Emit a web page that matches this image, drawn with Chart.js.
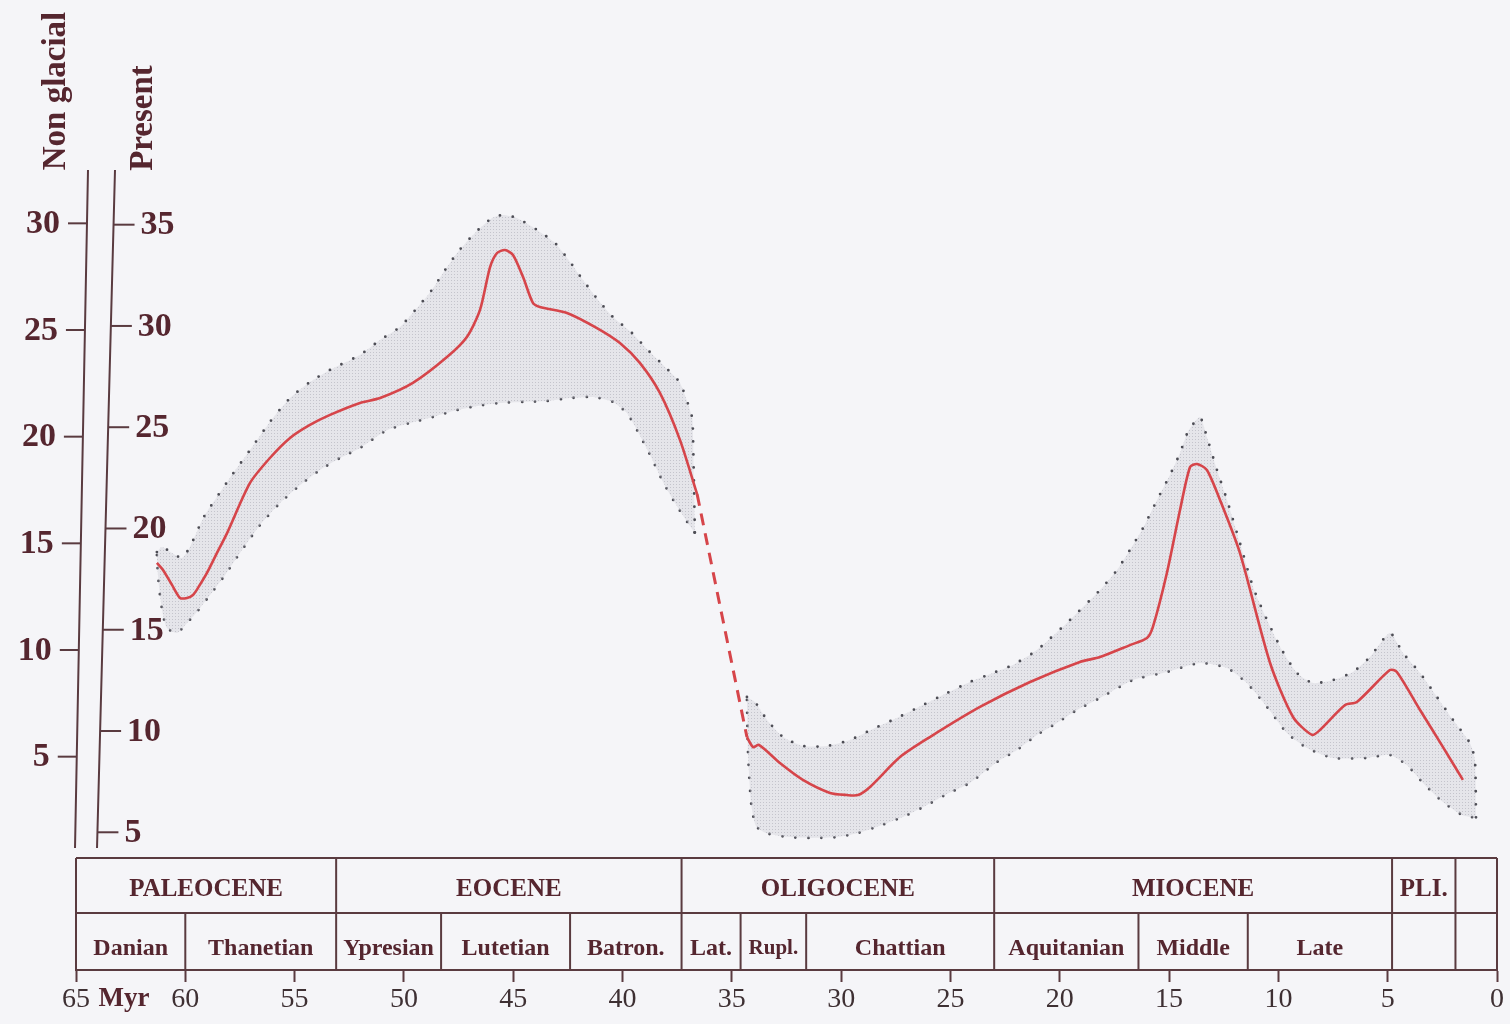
<!DOCTYPE html>
<html>
<head>
<meta charset="utf-8">
<title>Cenozoic temperature curve</title>
<script src="https://cdn.jsdelivr.net/npm/chart.js@4/dist/chart.umd.min.js"></script>
<style>
  html, body { margin: 0; padding: 0; background: #f5f5f8; overflow: hidden; }
  canvas { display: block; }
</style>
</head>
<body>
<canvas id="c" width="1510" height="1024"></canvas>
<script>
// Mean temperature (°C, non-glacial scale) against age in Myr
const redPaleogene = [[61.30,14.08],[61.02,13.75],[60.61,13.05],[60.24,12.44],[59.92,12.44],[59.65,12.58],[59.42,12.91],[59.01,13.61],[58.55,14.55],[58.09,15.48],[57.04,17.83],[56.13,19.00],[55.21,19.94],[54.30,20.55],[53.38,21.02],[52.01,21.58],[51.09,21.81],[49.59,22.52],[48.03,23.73],[47.12,24.67],[46.52,25.94],[46.06,27.95],[45.74,28.61],[45.38,28.75],[45.01,28.52],[44.55,27.48],[44.10,26.27],[43.78,26.08],[42.54,25.80],[41.17,25.09],[40.12,24.39],[39.20,23.45],[38.29,22.05],[37.37,19.84],[36.59,17.31]];
const redTransition = [[36.59,17.31],[34.31,5.92]];
const redNeogene = [[34.31,5.92],[34.03,5.45],[33.76,5.55],[32.80,4.70],[31.75,3.91],[30.51,3.30],[29.73,3.20],[29.23,3.20],[28.68,3.58],[27.31,4.98],[25.94,5.92],[23.65,7.33],[21.36,8.50],[19.08,9.44],[18.16,9.67],[16.79,10.23],[16.01,10.56],[15.74,11.08],[15.10,13.61],[14.50,16.56],[14.04,18.58],[13.72,18.72],[13.27,18.44],[12.67,17.03],[11.76,14.55],[10.38,9.39],[9.33,6.86],[8.46,6.02],[8.10,6.25],[6.95,7.42],[6.41,7.56],[4.90,9.06],[4.58,8.97],[3.52,7.19],[2.47,5.45],[1.56,3.91]];

// Uncertainty envelope (upper and lower limits)
const upperPaleogene = [[61.30,14.59],[61.07,14.83],[60.61,14.55],[60.15,14.31],[59.79,14.83],[59.33,15.86],[59.10,16.33],[57.96,18.06],[57.04,19.37],[56.13,20.69],[55.21,21.81],[54.30,22.56],[53.38,23.13],[52.01,23.83],[51.09,24.53],[50.18,25.14],[49.40,26.03],[48.72,26.88],[48.12,27.81],[47.53,28.66],[46.75,29.55],[45.97,30.25],[45.47,30.39],[44.83,30.25],[43.91,29.69],[43.09,29.08],[42.40,28.19],[41.81,27.34],[41.12,26.41],[40.44,25.61],[39.57,24.86],[38.84,24.06],[38.06,23.27],[37.37,22.52],[36.82,20.92],[36.78,20.17],[36.69,15.48]];
const lowerPaleogene = [[61.30,14.45],[61.25,13.52],[61.16,12.58],[61.02,11.64],[60.84,11.03],[60.38,10.80],[59.92,11.27],[59.47,11.78],[58.87,12.58],[58.18,13.52],[57.50,14.55],[56.58,15.86],[55.67,16.89],[54.75,17.73],[53.84,18.44],[52.92,19.00],[52.01,19.47],[50.77,20.31],[49.72,20.64],[48.67,20.92],[47.76,21.20],[46.66,21.44],[45.61,21.58],[44.55,21.63],[43.46,21.67],[42.40,21.81],[41.35,21.86],[40.44,21.63],[39.80,21.11],[39.34,20.31],[38.74,19.14],[38.15,17.88],[37.60,16.89],[37.01,15.95],[36.69,15.48]];
const upperNeogene = [[34.31,7.80],[33.94,7.56],[33.39,6.72],[32.66,5.92],[31.75,5.50],[30.65,5.50],[29.60,5.78],[28.54,6.30],[27.45,6.81],[26.53,7.28],[25.16,7.98],[24.11,8.50],[23.06,8.92],[22.14,9.30],[21.23,9.86],[20.77,10.23],[19.53,11.41],[18.16,12.81],[17.38,13.75],[16.79,14.69],[16.19,15.72],[15.55,17.03],[14.96,18.20],[14.50,19.23],[14.14,20.22],[13.59,20.92],[13.27,19.98],[12.81,18.44],[12.35,17.03],[11.76,15.02],[11.16,12.95],[10.52,11.41],[9.84,10.00],[9.15,8.92],[8.42,8.45],[7.50,8.59],[6.59,8.97],[5.81,9.67],[4.90,10.80],[4.30,9.86],[3.52,8.92],[2.75,7.80],[2.01,6.72],[1.24,5.64],[1.01,4.84],[0.96,2.13]];
const lowerNeogene = [[34.31,7.66],[34.26,5.17],[34.12,2.83],[33.90,1.75],[33.44,1.42],[32.43,1.23],[31.33,1.19],[30.19,1.23],[29.23,1.42],[28.13,1.80],[27.08,2.22],[26.07,2.73],[25.16,3.25],[24.11,3.77],[22.87,4.75],[21.96,5.31],[21.04,6.02],[20.13,6.58],[19.21,7.19],[18.16,7.75],[16.65,8.59],[15.10,8.97],[13.59,9.39],[12.35,9.16],[11.44,8.45],[10.52,7.33],[9.61,6.11],[8.69,5.41],[7.50,4.94],[5.95,4.94],[4.90,5.08],[4.12,4.61],[3.39,3.77],[2.47,2.87],[1.60,2.27],[0.96,2.13]];

// Stratigraphic table (boundaries in Myr)
const epochBounds = [65, 53.1, 37.3, 23.0, 4.8, 1.9, 0];
const epochNames = ['PALEOCENE', 'EOCENE', 'OLIGOCENE', 'MIOCENE', 'PLI.', ''];
const stageBounds = [65, 60, 53.1, 48.3, 42.4, 37.3, 34.6, 31.6, 23.0, 16.4, 11.4, 4.8, 1.9, 0];
const stageNames = ['Danian', 'Thanetian', 'Ypresian', 'Lutetian', 'Batron.', 'Lat.', 'Rupl.', 'Chattian', 'Aquitanian', 'Middle', 'Late', '', ''];

// Temperature scales
const nonGlacialTicks = [5, 10, 15, 20, 25, 30];
const presentTicks = [5, 10, 15, 20, 25, 30, 35];

const BG = '#f5f5f8';
const INK = '#55262f';
const RULE = '#5a3b40';
const NUM = '#3e3033';
const SERIF = '"Liberation Serif", "DejaVu Serif", serif';

const pts = arr => arr.map(([x, y]) => ({ x, y }));

function stipple() {
  const c = document.createElement('canvas');
  c.width = 3; c.height = 3;
  const g = c.getContext('2d');
  g.fillStyle = 'rgba(196,196,204,0.32)';
  g.fillRect(0, 0, 3, 3);
  g.fillStyle = 'rgba(120,120,132,0.30)';
  g.fillRect(1, 1, 1, 1);
  return g.createPattern(c, 'repeat');
}
const bandFill = stipple();

const envelope = (data, fill) => ({
  data: pts(data), fill: fill, backgroundColor: bandFill,
  borderColor: '#4d4d55', borderWidth: 2.8, borderDash: [0, 13], borderCapStyle: 'round',
  pointRadius: 0, tension: 0.2, order: 2
});
const curve = (data, dash) => ({
  data: pts(data), fill: false, borderColor: '#d6454a', borderWidth: dash ? 3 : 2.6,
  borderDash: dash ? [12, 8] : [], pointRadius: 0, tension: 0.25, order: 1
});

const tablePlugin = {
  id: 'stratTable',
  beforeDraw(chart) {
    const { ctx, width, height } = chart;
    ctx.save();
    ctx.fillStyle = BG;
    ctx.fillRect(0, 0, width, height);
    ctx.restore();
  },
  afterDraw(chart) {
    const { ctx, chartArea } = chart;
    const xs = chart.scales.x;
    const rowTop = 858, rowMid = 913, rowBot = chartArea.bottom;
    const px = v => xs.getPixelForValue(v);

    ctx.save();
    ctx.strokeStyle = RULE;
    ctx.lineWidth = 2;
    ctx.beginPath();
    ctx.moveTo(px(65), rowTop); ctx.lineTo(px(0), rowTop);
    ctx.moveTo(px(65), rowMid); ctx.lineTo(px(0), rowMid);
    epochBounds.forEach(b => { ctx.moveTo(px(b), rowTop); ctx.lineTo(px(b), rowMid); });
    stageBounds.forEach(b => { ctx.moveTo(px(b), rowMid); ctx.lineTo(px(b), rowBot); });
    ctx.stroke();

    ctx.fillStyle = INK;
    ctx.textAlign = 'center';
    ctx.textBaseline = 'middle';
    ctx.font = 'bold 25px ' + SERIF;
    epochNames.forEach((n, i) => {
      if (!n) return;
      ctx.fillText(n, (px(epochBounds[i]) + px(epochBounds[i + 1])) / 2, 890);
    });
    stageNames.forEach((n, i) => {
      if (!n) return;
      ctx.font = (n === 'Rupl.' ? 'bold 21px ' : 'bold 24px ') + SERIF;
      ctx.fillText(n, (px(stageBounds[i]) + px(stageBounds[i + 1])) / 2, 949);
    });

    // age unit next to the oldest tick
    ctx.font = 'bold 27px ' + SERIF;
    ctx.fillText('Myr', 124, 999);

    // two temperature axes on the left
    const top = chartArea.top, bottom = 848;
    const slant = (x0, x1, y) => x0 + (x1 - x0) * (y - top) / (bottom - top);
    const ys = chart.scales.y, ys2 = chart.scales.y2;

    ctx.beginPath();
    ctx.moveTo(88, top); ctx.lineTo(75, bottom);
    ctx.moveTo(115, top); ctx.lineTo(97, bottom);
    ctx.stroke();

    ctx.font = 'bold 34px ' + SERIF;
    ctx.textBaseline = 'middle';
    nonGlacialTicks.forEach(v => {
      const y = ys.getPixelForValue(v);
      const x = slant(88, 75, y);
      ctx.beginPath(); ctx.moveTo(x - 19, y); ctx.lineTo(x, y); ctx.stroke();
      ctx.textAlign = 'right';
      ctx.fillText(String(v), x - 27, y + 1);
    });
    presentTicks.forEach(v => {
      const y = ys2.getPixelForValue(v);
      const x = slant(115, 97, y);
      ctx.beginPath(); ctx.moveTo(x, y); ctx.lineTo(x + 21, y); ctx.stroke();
      ctx.textAlign = 'left';
      ctx.fillText(String(v), x + 27, y + 1);
    });

    ctx.font = 'bold 33px ' + SERIF;
    ctx.textAlign = 'center';
    ctx.save();
    ctx.translate(56, 91); ctx.rotate(-Math.PI / 2);
    ctx.fillText('Non glacial', 0, 0);
    ctx.restore();
    ctx.save();
    ctx.translate(143, 118); ctx.rotate(-Math.PI / 2);
    ctx.fillText('Present', 0, 0);
    ctx.restore();
    ctx.restore();
  }
};

new Chart(document.getElementById('c'), {
  type: 'line',
  data: {
    datasets: [
      envelope(upperPaleogene, '+1'),
      envelope(lowerPaleogene, false),
      envelope(upperNeogene, '+1'),
      envelope(lowerNeogene, false),
      curve(redPaleogene, false),
      curve(redTransition, true),
      curve(redNeogene, false)
    ]
  },
  options: {
    responsive: false,
    animation: false,
    layout: { padding: { left: 76, right: 13, top: 170, bottom: 0 } },
    plugins: { legend: { display: false }, tooltip: { enabled: false } },
    scales: {
      x: {
        type: 'linear', reverse: true, min: 0, max: 65, position: 'bottom',
        afterFit(s) { s.height = 54; s.paddingLeft = 0; s.paddingRight = 0; },
        ticks: { stepSize: 5, autoSkip: false, maxRotation: 0, padding: 1,
                 color: NUM, font: { family: SERIF, size: 28 } },
        grid: { display: true, drawOnChartArea: false, drawTicks: true, tickLength: 12,
                tickWidth: 2, color: RULE },
        border: { display: true, color: RULE, width: 2 }
      },
      y: { type: 'linear', min: -5, max: 32.5, display: false },
      y2: { type: 'linear', min: -1.8, max: 37.7, display: false }
    }
  },
  plugins: [tablePlugin]
});
</script>
</body>
</html>
